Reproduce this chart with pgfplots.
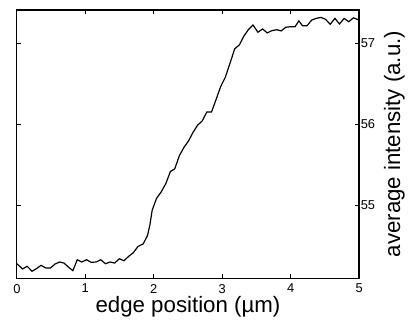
\documentclass[border=0pt]{standalone}
\usepackage{pgfplots}
\pgfplotsset{compat=1.18}
\usepackage{fontspec}
\setmainfont{Liberation Sans}
\begin{document}
\begin{tikzpicture}
\begin{axis}[
  scale only axis,
  width=344.5bp, height=270bp,
  xmin=0, xmax=5, ymin=54.1, ymax=57.41,
  xtick={0,1,2,3,4,5},
  ytick={55,56,57},
  yticklabel pos=right,
  tick align=inside,
  major tick length=4bp,
  axis line style={line width=1.2bp},
  every tick/.style={black, line width=0.8bp},
  /pgf/number format/assume math mode=true,
  tick label style={font=\fontsize{13}{15}\selectfont},
  xticklabel style={yshift=-2.5bp},
  yticklabel style={xshift=-1.8bp},
  xlabel={edge position (µm)},
  ylabel={average intensity (a.u.)},
  label style={font=\fontsize{22.5}{26}\selectfont},
  xlabel style={at={(rel axis cs:0.5,0)}, anchor=base, yshift=-35bp},
  ylabel style={at={(rel axis cs:1.103,0.5)}, anchor=center},
]
\addplot[black, line width=1.2bp] coordinates {
(0.000,54.278) (0.083,54.213) (0.150,54.246) (0.222,54.185) (0.286,54.217)
(0.353,54.258) (0.422,54.225) (0.490,54.225) (0.557,54.274) (0.625,54.299)
(0.688,54.286) (0.756,54.234) (0.818,54.192) (0.882,54.327) (0.949,54.299)
(1.017,54.327) (1.086,54.295) (1.158,54.299) (1.225,54.327) (1.294,54.278)
(1.362,54.299) (1.429,54.286) (1.497,54.339) (1.565,54.315) (1.632,54.368)
(1.701,54.413) (1.769,54.491) (1.846,54.523) (1.908,54.625) (1.943,54.755)
(1.977,54.939) (2.039,55.082) (2.108,55.164) (2.176,55.266) (2.243,55.416)
(2.307,55.449) (2.374,55.612) (2.442,55.715) (2.510,55.796) (2.573,55.898)
(2.641,55.988) (2.708,56.040) (2.776,56.151) (2.844,56.151) (2.911,56.306)
(2.980,56.469) (3.048,56.584) (3.115,56.755) (3.183,56.930) (3.251,56.979)
(3.318,57.089) (3.387,57.171) (3.449,57.224) (3.522,57.135) (3.590,57.175)
(3.658,57.126) (3.725,57.154) (3.798,57.166) (3.862,57.151) (3.929,57.196)
(3.997,57.203) (4.065,57.203) (4.120,57.275) (4.172,57.215) (4.240,57.215)
(4.307,57.285) (4.375,57.306) (4.443,57.318) (4.510,57.294) (4.578,57.233)
(4.647,57.306) (4.714,57.236) (4.782,57.306) (4.850,57.264) (4.917,57.313)
(5.000,57.285)
};
\end{axis}
\path ([xshift=-17bp,yshift=-42bp]current axis.south west) rectangle ([xshift=46.5bp,yshift=10bp]current axis.north east);
\end{tikzpicture}
\end{document}
